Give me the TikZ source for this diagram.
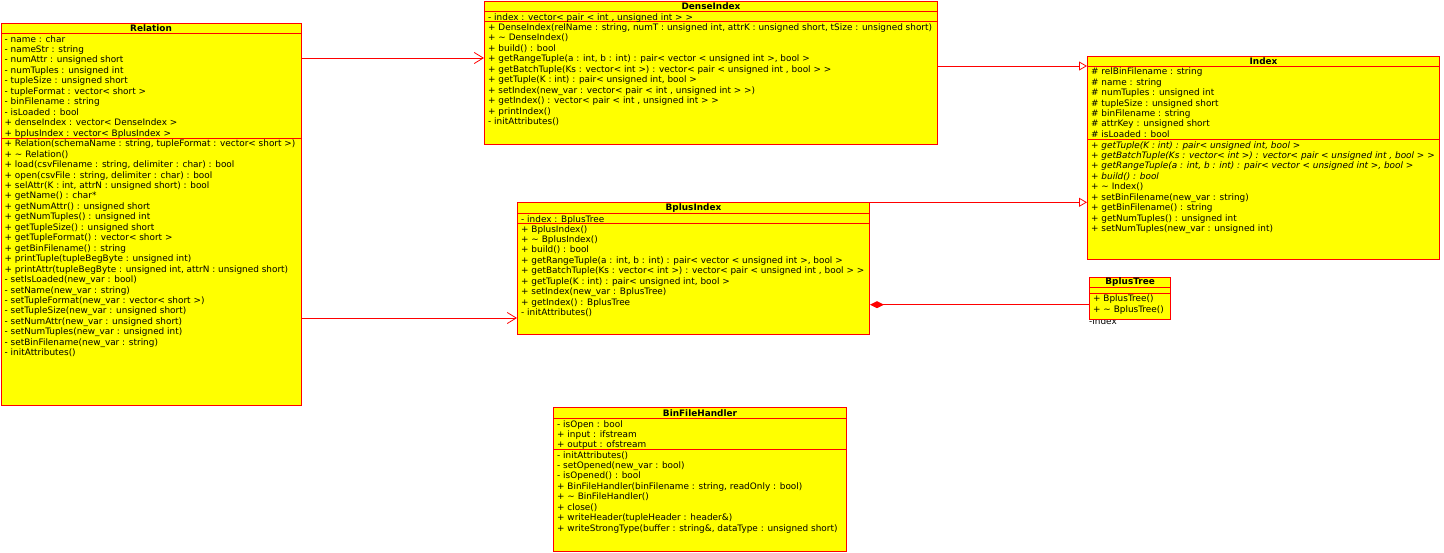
\documentclass[tikz,border=0pt]{standalone}
\usepackage{fontspec}
\setmainfont{DejaVu Sans}
\usepackage{tikz}
\usetikzlibrary{arrows.meta}

\definecolor{umlyellow}{RGB}{255,255,0}
\definecolor{umlred}{RGB}{255,0,0}
\newcommand{\umlfont}{\fontsize{8.9}{10.45}\selectfont}
\newcommand{\memberlist}[1]{\begin{tabular}{@{}l@{}}#1\end{tabular}}
\newcommand{\tl}{\textasciitilde}

\tikzset{
  classbox/.style={draw=umlred, fill=umlyellow, line width=1pt, anchor=north west, inner sep=0pt},
  classtitle/.style={font=\umlfont\bfseries, inner sep=0pt},
  members/.style={font=\umlfont, anchor=north west, inner sep=0pt},
  sepline/.style={draw=umlred, line width=1pt},
  assoc/.style={draw=umlred, line width=1pt, -{Straight Barb[length=9pt,width=11pt,line width=0.8pt]}},
  inherit/.style={draw=umlred, line width=1pt, -{Triangle[open,length=8pt,width=9pt,fill=white,line width=0.8pt]}},
  compose/.style={draw=umlred, line width=1pt, {Diamond[length=14pt,width=7pt]}-},
}

\begin{document}
\begin{tikzpicture}[x=1pt, y=-1pt]
    \useasboundingbox (0,0) rectangle (1444,552);
    % Relation %
    \node[classbox, minimum width=300pt, minimum height=381.7pt] (relation) at (0.5,23.3) {};
    \node[classtitle] (relation-title) at ([yshift=-5pt]relation.north) {Relation};
    \draw[sepline] ([yshift=-10pt]relation.north west) -- ([yshift=-10pt]relation.north east);
    \draw[sepline] ([yshift=-114.7pt]relation.north west) -- ([yshift=-114.7pt]relation.north east);
    \node[members] (relation-attrs) at ([xshift=4pt,yshift=-11.2pt]relation.north west) {\memberlist{
        - name : char\\
        - nameStr : string\\
        - numAttr : unsigned short\\
        - numTuples : unsigned int\\
        - tupleSize : unsigned short\\
        - tupleFormat : vector< short >\\
        - binFilename : string\\
        - isLoaded : bool\\
        + denseIndex : vector< DenseIndex >\\
        + bplusIndex : vector< BplusIndex >}};
    \node[members] (relation-ops) at ([xshift=4pt,yshift=-115.9pt]relation.north west) {\memberlist{
        + Relation(schemaName : string, tupleFormat : vector< short >)\\
        + \tl{} Relation()\\
        + load(csvFilename : string, delimiter : char) : bool\\
        + open(csvFile : string, delimiter : char) : bool\\
        + selAttr(K : int, attrN : unsigned short) : bool\\
        + getName() : char*\\
        + getNumAttr() : unsigned short\\
        + getNumTuples() : unsigned int\\
        + getTupleSize() : unsigned short\\
        + getTupleFormat() : vector< short >\\
        + getBinFilename() : string\\
        + printTuple(tupleBegByte : unsigned int)\\
        + printAttr(tupleBegByte : unsigned int, attrN : unsigned short)\\
        - setIsLoaded(new\_var : bool)\\
        - setName(new\_var : string)\\
        - setTupleFormat(new\_var : vector< short >)\\
        - setTupleSize(new\_var : unsigned short)\\
        - setNumAttr(new\_var : unsigned short)\\
        - setNumTuples(new\_var : unsigned int)\\
        - setBinFilename(new\_var : string)\\
        - initAttributes()}};
    % DenseIndex %
    \node[classbox, minimum width=453pt, minimum height=143.2pt] (denseindex) at (484,0.8) {};
    \node[classtitle] (denseindex-title) at ([yshift=-5.4pt]denseindex.north) {DenseIndex};
    \draw[sepline] ([yshift=-10.9pt]denseindex.north west) -- ([yshift=-10.9pt]denseindex.north east);
    \draw[sepline] ([yshift=-20.9pt]denseindex.north west) -- ([yshift=-20.9pt]denseindex.north east);
    \node[members] (denseindex-attrs) at ([xshift=4pt,yshift=-12.1pt]denseindex.north west) {\memberlist{
        - index : vector< pair < int , unsigned int > >}};
    \node[members] (denseindex-ops) at ([xshift=4pt,yshift=-22.1pt]denseindex.north west) {\memberlist{
        + DenseIndex(relName : string, numT : unsigned int, attrK : unsigned short, tSize : unsigned short)\\
        + \tl{} DenseIndex()\\
        + build() : bool\\
        + getRangeTuple(a : int, b : int) : pair< vector < unsigned int >, bool >\\
        + getBatchTuple(Ks : vector< int >) : vector< pair < unsigned int , bool > >\\
        + getTuple(K : int) : pair< unsigned int, bool >\\
        + setIndex(new\_var : vector< pair < int , unsigned int > >)\\
        + getIndex() : vector< pair < int , unsigned int > >\\
        + printIndex()\\
        - initAttributes()}};
    % Index %
    \node[classbox, minimum width=352pt, minimum height=203.3pt] (index) at (1087,55.7) {};
    \node[classtitle] (index-title) at ([yshift=-5.2pt]index.north) {Index};
    \draw[sepline] ([yshift=-10.3pt]index.north west) -- ([yshift=-10.3pt]index.north east);
    \draw[sepline] ([yshift=-83.6pt]index.north west) -- ([yshift=-83.6pt]index.north east);
    \node[members] (index-attrs) at ([xshift=4pt,yshift=-11.5pt]index.north west) {\memberlist{
        \# relBinFilename : string\\
        \# name : string\\
        \# numTuples : unsigned int\\
        \# tupleSize : unsigned short\\
        \# binFilename : string\\
        \# attrKey : unsigned short\\
        \# isLoaded : bool}};
    \node[members] (index-ops) at ([xshift=4pt,yshift=-84.8pt]index.north west) {\memberlist{
        \itshape + getTuple(K : int) : pair< unsigned int, bool >\\
        \itshape + getBatchTuple(Ks : vector< int >) : vector< pair < unsigned int , bool > >\\
        \itshape + getRangeTuple(a : int, b : int) : pair< vector < unsigned int >, bool >\\
        \itshape + build() : bool\\
        + \tl{} Index()\\
        + setBinFilename(new\_var : string)\\
        + getBinFilename() : string\\
        + getNumTuples() : unsigned int\\
        + setNumTuples(new\_var : unsigned int)}};
    % BplusIndex %
    \node[classbox, minimum width=352pt, minimum height=131.7pt] (bplusindex) at (517,202.3) {};
    \node[classtitle] (bplusindex-title) at ([yshift=-5.5pt]bplusindex.north) {BplusIndex};
    \draw[sepline] ([yshift=-11pt]bplusindex.north west) -- ([yshift=-11pt]bplusindex.north east);
    \draw[sepline] ([yshift=-21pt]bplusindex.north west) -- ([yshift=-21pt]bplusindex.north east);
    \node[members] (bplusindex-attrs) at ([xshift=4pt,yshift=-12.2pt]bplusindex.north west) {\memberlist{
        - index : BplusTree}};
    \node[members] (bplusindex-ops) at ([xshift=4pt,yshift=-22.2pt]bplusindex.north west) {\memberlist{
        + BplusIndex()\\
        + \tl{} BplusIndex()\\
        + build() : bool\\
        + getRangeTuple(a : int, b : int) : pair< vector < unsigned int >, bool >\\
        + getBatchTuple(Ks : vector< int >) : vector< pair < unsigned int , bool > >\\
        + getTuple(K : int) : pair< unsigned int, bool >\\
        + setIndex(new\_var : BplusTree)\\
        + getIndex() : BplusTree\\
        - initAttributes()}};
    % BinFileHandler %
    \node[classbox, minimum width=293pt, minimum height=143.4pt] (binfilehandler) at (553,407.3) {};
    \node[classtitle] (binfilehandler-title) at ([yshift=-5.5pt]binfilehandler.north) {BinFileHandler};
    \draw[sepline] ([yshift=-11pt]binfilehandler.north west) -- ([yshift=-11pt]binfilehandler.north east);
    \draw[sepline] ([yshift=-42pt]binfilehandler.north west) -- ([yshift=-42pt]binfilehandler.north east);
    \node[members] (binfilehandler-attrs) at ([xshift=4pt,yshift=-12.2pt]binfilehandler.north west) {\memberlist{
        - isOpen : bool\\
        + input : ifstream\\
        + output : ofstream}};
    \node[members] (binfilehandler-ops) at ([xshift=4pt,yshift=-43.2pt]binfilehandler.north west) {\memberlist{
        - initAttributes()\\
        - setOpened(new\_var : bool)\\
        - isOpened() : bool\\
        + BinFileHandler(binFilename : string, readOnly : bool)\\
        + \tl{} BinFileHandler()\\
        + close()\\
        + writeHeader(tupleHeader : header\&)\\
        + writeStrongType(buffer : string\&, dataType : unsigned short)}};
    % BplusTree %
    \node[members, anchor=base west] (index-role) at (1089,324) {-index};
    \node[classbox, minimum width=81.3pt, minimum height=42pt] (bplustree) at (1089,277.3) {};
    \node[classtitle] (bplustree-title) at ([yshift=-5.2pt]bplustree.north) {BplusTree};
    \draw[sepline] ([yshift=-10.4pt]bplustree.north west) -- ([yshift=-10.4pt]bplustree.north east);
    \draw[sepline] ([yshift=-15.7pt]bplustree.north west) -- ([yshift=-15.7pt]bplustree.north east);
    \node[members] (bplustree-ops) at ([xshift=4pt,yshift=-16.9pt]bplustree.north west) {\memberlist{
        + BplusTree()\\
        + \tl{} BplusTree()}};
    % edges %
    \coordinate (rel-dense) at ([yshift=-34.7pt]relation.north east);
    \coordinate (rel-bplus) at ([yshift=-294.7pt]relation.north east);
    \coordinate (dense-index) at ([yshift=-65.2pt]denseindex.north east);
    \coordinate (tree-link) at ([yshift=-27.4pt]bplustree.north west);
    \draw[assoc] (rel-dense) -- (rel-dense -| denseindex.west);
    \draw[assoc] (rel-bplus) -- (rel-bplus -| bplusindex.west);
    \draw[inherit] (dense-index) -- (dense-index -| index.west);
    \draw[inherit] (bplusindex.north east) -- (bplusindex.north east -| index.west);
    \draw[compose] (tree-link -| bplusindex.east) -- (tree-link);
\end{tikzpicture}
\end{document}
